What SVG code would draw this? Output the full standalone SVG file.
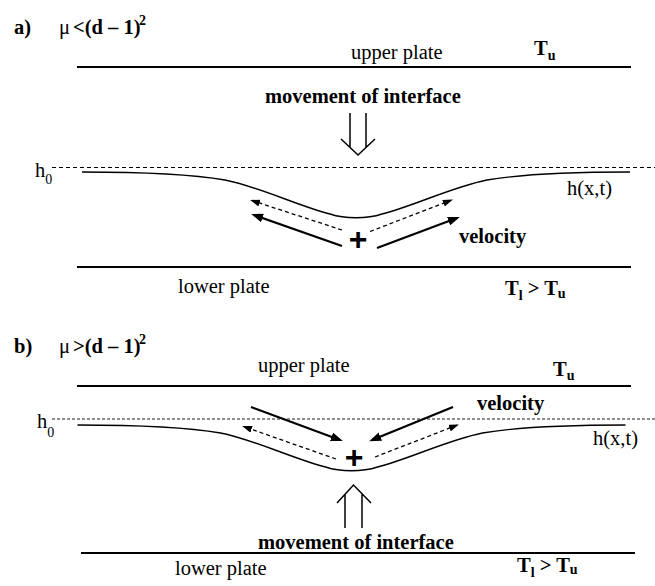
<svg xmlns="http://www.w3.org/2000/svg" width="655" height="586" viewBox="0 0 655 586">
<style>
text{font-family:"Liberation Serif","Times New Roman",serif;font-size:20.5px;fill:#000}
.b{font-weight:bold}
.sub{font-size:14px}
.plus{font-family:"Liberation Sans",Arial,sans-serif;font-weight:bold;font-size:32px;text-anchor:middle}
.plate{stroke:#000;stroke-width:2.2;fill:none}
.ref{stroke:#000;stroke-width:1;stroke-dasharray:4 3;fill:none}
.iface{stroke:#000;stroke-width:1.4;fill:none}
.vel{stroke:#000;stroke-width:2.2;fill:none;marker-end:url(#hs)}
.flow{stroke:#000;stroke-width:1.3;stroke-dasharray:4 3;fill:none;marker-end:url(#hd)}
.dbl{stroke:#000;stroke-width:1.5;fill:none}
</style>
<defs>
<marker id="hs" markerUnits="userSpaceOnUse" markerWidth="12" markerHeight="9" refX="9" refY="4.5" orient="auto"><path d="M0,0 L12,4.5 L0,9 Z" fill="#000"/></marker>
<marker id="hd" markerUnits="userSpaceOnUse" markerWidth="10" markerHeight="7" refX="8" refY="3.5" orient="auto"><path d="M0,0 L10,3.5 L0,7 Z" fill="#000"/></marker>
<path id="curve" d="M82,172 C150,172 190,174 225,180 C260,187 298,206 330,214 C345,219 367,219 382,214 C414,206 452,187 487,180 C522,174 562,172 630,172"/>
</defs>

<!-- Panel a -->
<g id="title-a">
<text x="14" y="34" class="b">a)</text>
<text x="59" y="34">μ</text>
<text x="73" y="34" class="b">&lt;(d – 1)</text>
<text x="139" y="25" class="b sub">2</text>
</g>
<g id="upper-plate-a">
<line x1="77" y1="67" x2="631" y2="67" class="plate"/>
<text x="351" y="59">upper plate</text>
<text x="534" y="55" class="b">T<tspan class="sub" dy="5">u</tspan></text>
</g>
<g id="reference-a">
<line x1="52" y1="167.5" x2="655" y2="167.5" class="ref"/>
<text x="35" y="177">h<tspan class="sub" dy="7">0</tspan></text>
</g>
<g id="interface-a">
<use href="#curve" class="iface"/>
<text x="567" y="195">h(x,t)</text>
</g>
<g id="movement-a">
<text x="265" y="103" class="b">movement of interface</text>
<path d="M350,113 V147.5 M366,113 V147.5 M341,139 L358,155 L375,139" class="dbl"/>
</g>
<g id="center-a">
<text x="358" y="250" class="plus">+</text>
<text x="459" y="243" class="b">velocity</text>
</g>
<g id="lower-plate-a">
<line x1="77" y1="267" x2="631" y2="267" class="plate"/>
<text x="178" y="293">lower plate</text>
<text x="505" y="295" class="b">T<tspan class="sub" dy="5">l</tspan><tspan dy="-5"> &gt; T</tspan><tspan class="sub" dy="3">u</tspan></text>
</g>
<g id="connectors-a">
<line x1="342" y1="246" x2="254" y2="215" class="vel"/>
<line x1="377" y1="248" x2="457" y2="218" class="vel"/>
<line x1="342" y1="230" x2="252" y2="200.6" class="flow"/>
<line x1="370" y1="231.5" x2="451" y2="200.3" class="flow"/>
</g>

<!-- Panel b -->
<g id="title-b">
<text x="14" y="353" class="b">b)</text>
<text x="59" y="353">μ</text>
<text x="73" y="353" class="b">&gt;(d – 1)</text>
<text x="139" y="344" class="b sub">2</text>
</g>
<g id="upper-plate-b">
<line x1="77" y1="386" x2="631" y2="386" class="plate"/>
<text x="258" y="372">upper plate</text>
<text x="553" y="376" class="b">T<tspan class="sub" dy="4">u</tspan></text>
</g>
<g id="reference-b">
<line x1="52" y1="419" x2="655" y2="419" class="ref" style="stroke-dasharray:3 2;stroke-width:0.9"/>
<text x="37" y="428">h<tspan class="sub" dy="9">0</tspan></text>
</g>
<g id="interface-b">
<use href="#curve" class="iface" transform="translate(-4.5,253)"/>
<text x="593" y="445">h(x,t)</text>
</g>
<g id="center-b">
<text x="354" y="468" class="plus">+</text>
<text x="477" y="410" class="b">velocity</text>
</g>
<g id="movement-b">
<path d="M345,528 V494 M362,528 V494 M337,503 L353.5,485 L371,503" class="dbl"/>
<text x="258" y="549" class="b">movement of interface</text>
</g>
<g id="lower-plate-b">
<line x1="81" y1="553" x2="635" y2="553" class="plate"/>
<text x="175" y="575">lower plate</text>
<text x="517" y="572" class="b">T<tspan class="sub" dy="5">l</tspan><tspan dy="-5"> &gt; T</tspan><tspan class="sub" dy="2">u</tspan></text>
</g>
<g id="connectors-b">
<line x1="251" y1="407" x2="340" y2="440" class="vel"/>
<line x1="453" y1="407" x2="372" y2="440" class="vel"/>
<line x1="336" y1="459" x2="244" y2="426.7" class="flow"/>
<line x1="375" y1="457" x2="457" y2="425.2" class="flow"/>
</g>
</svg>
